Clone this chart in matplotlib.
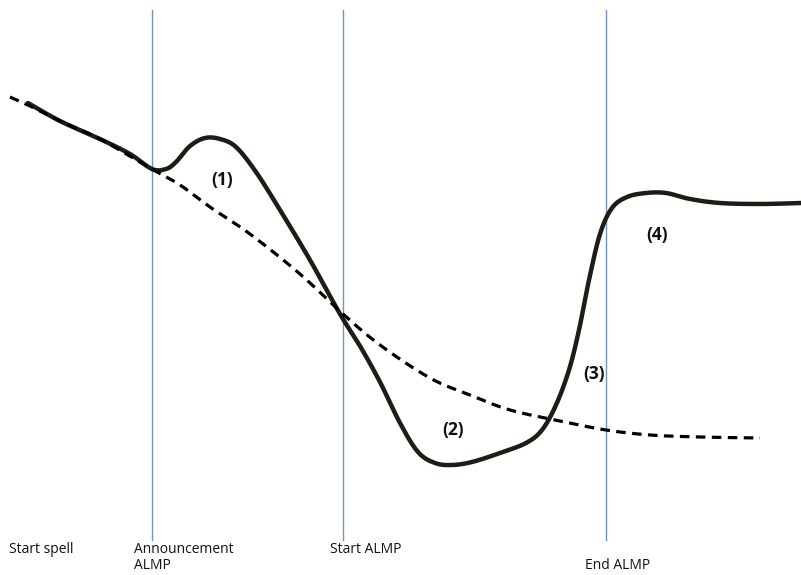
import numpy as np
import matplotlib.pyplot as plt

# conceptual chart, coordinates in picture units (x right, y down)
solid_x = [28, 60, 100, 130, 152, 166, 176, 190, 205, 220, 236, 256, 280, 310, 340,
           360, 380, 400, 418, 435, 452, 472, 500, 526, 542, 556, 569, 579, 589, 600,
           612, 627, 646, 666, 690, 720, 760, 801]
solid_y = [103, 121, 139, 154, 169, 169, 162, 146, 138, 139, 147, 172, 210, 260, 314,
           346, 382, 423, 452, 463, 465, 462, 453, 443, 430, 405, 370, 330, 280, 234,
           208, 197, 193, 193, 199, 203, 204, 203]

dash_x = [10, 30, 60, 100, 150, 180, 210, 250, 300, 343, 380, 430, 470, 510, 560,
          606, 650, 700, 760]
dash_y = [97, 106, 121, 139, 168, 185, 207, 234, 274, 314, 345, 378, 395, 410, 421,
          430, 435, 437, 438]

event_x = [152, 343, 606]
event_labels = ["Start spell", "Announcement\nALMP", "Start ALMP", "End ALMP"]
label_pos = [(9, 542), (134, 542), (330, 542), (585, 558)]

phase_labels = ["(1)", "(2)", "(3)", "(4)"]
phase_pos = [(222, 180), (453, 430), (594, 374), (657, 235)]


def catmull_rom(xs, ys, n=20):
    p = np.column_stack([xs, ys]).astype(float)
    p = np.vstack([p[0], p, p[-1]])
    out = []
    t = np.linspace(0, 1, n, endpoint=False)[:, None]
    for i in range(1, len(p) - 2):
        p0, p1, p2, p3 = p[i - 1], p[i], p[i + 1], p[i + 2]
        seg = 0.5 * ((2 * p1) + (-p0 + p2) * t + (2 * p0 - 5 * p1 + 4 * p2 - p3) * t ** 2
                     + (-p0 + 3 * p1 - 3 * p2 + p3) * t ** 3)
        out.append(seg)
    out.append(p[-2][None, :])
    out = np.vstack(out)
    return out[:, 0], out[:, 1]


fig = plt.figure(figsize=(8.01, 5.75), dpi=100)
ax = fig.add_axes([0, 0, 1, 1])
ax.set_xlim(0, 801)
ax.set_ylim(575, 0)
ax.axis('off')

for x in event_x:
    ax.plot([x, x], [10, 540], color='#6f94c4', lw=1.0)

sx, sy = catmull_rom(solid_x, solid_y)
ax.plot(sx, sy, color='#1e1c14', lw=3.2, solid_capstyle='round')
dx, dy = catmull_rom(dash_x, dash_y)
ax.plot(dx, dy, color='black', lw=2.3, dashes=(3.0, 2.0))

for txt, (x, y) in zip(event_labels, label_pos):
    ax.text(x, y, txt, fontsize=10, family='Open Sans', ha='left', va='top',
            linespacing=1.05, color='#111111')

for txt, (x, y) in zip(phase_labels, phase_pos):
    ax.text(x, y, txt, fontsize=12.5, fontweight='bold', family='Open Sans',
            ha='center', va='center', color='#111111')

fig.savefig('out.png', dpi=100)
